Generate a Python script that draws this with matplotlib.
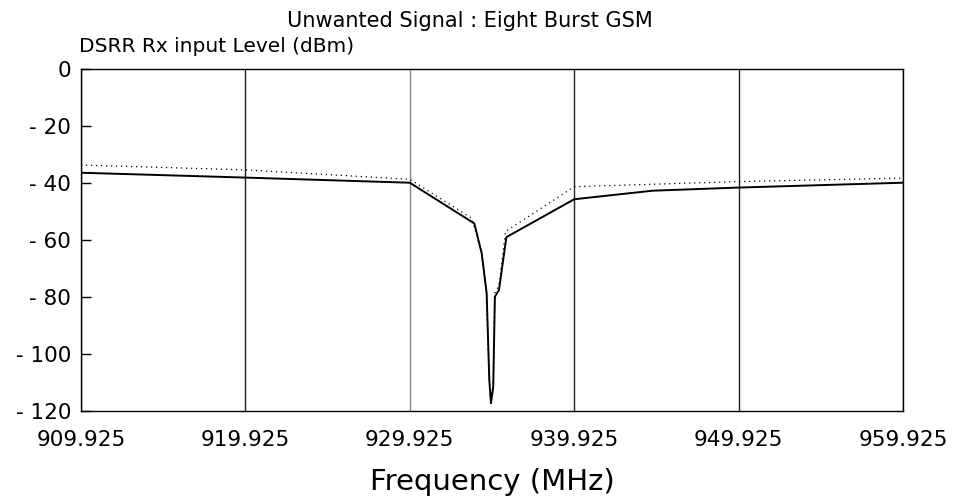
import numpy as np
import matplotlib
matplotlib.use("Agg")
import matplotlib.pyplot as plt

plt.rcParams['font.family'] = ['DejaVu Sans']

# solid trace
freq_solid = [909.925, 919.925, 929.925, 933.85, 934.30, 934.60, 934.76, 934.86,
              935.00, 935.10, 935.35, 935.80, 939.925, 944.70, 949.925, 959.925]
level_solid = [-36.4, -38.1, -39.9, -54.2, -64.7, -78.7, -109.0, -117.3,
               -111.5, -79.9, -77.5, -59.0, -45.7, -42.7, -41.6, -39.9]

# dotted trace
freq_dot = [909.925, 919.925, 929.925, 933.70, 934.25, 934.58, 934.75, 934.86,
            935.00, 935.10, 935.35, 935.75, 939.925, 949.925, 959.925]
level_dot = [-33.7, -35.4, -38.7, -52.4, -63.5, -78.0, -108.0, -116.5,
             -110.5, -78.5, -76.0, -57.0, -41.3, -39.5, -38.3]

xticks = [909.925, 919.925, 929.925, 939.925, 949.925, 959.925]
xtick_labels = ['909.925', '919.925', '929.925', '939.925', '949.925', '959.925']
yticks = [0, -20, -40, -60, -80, -100, -120]
ytick_labels = ['0', '- 20', '- 40', '- 60', '- 80', '- 100', '- 120']

fig = plt.figure(figsize=(9.56, 5.03), dpi=100)
ax = fig.add_subplot(111)
fig.subplots_adjust(left=81/956, right=903/956, top=1-69/503, bottom=1-411/503)

ax.plot(freq_dot, level_dot, color='k', lw=0.9, linestyle=(0, (1, 3)))
ax.plot(freq_solid, level_solid, color='k', lw=1.4)

ax.set_xlim(909.925, 959.925)
ax.set_ylim(-120, 0)
ax.set_xticks(xticks)
ax.set_xticklabels(xtick_labels)
ax.set_yticks(yticks)
ax.set_yticklabels(ytick_labels)
ax.tick_params(axis='x', length=0, pad=14, labelsize=15.5)
ax.tick_params(axis='y', direction='in', length=7, width=1, pad=7, labelsize=15.5)

ax.xaxis.grid(True, color='#222222', lw=1.0)
ax.get_xgridlines()[2].set_color('#888888')
for s in ax.spines.values():
    s.set_linewidth(1.0)

fig.text(0.492, 0.958, 'Unwanted Signal : Eight Burst GSM', ha='center', va='center', fontsize=15)
fig.text(79/956, 1-46/503, 'DSRR Rx input Level (dBm)', ha='left', va='center', fontsize=14.5)
ax.set_xlabel('Frequency (MHz)', fontsize=21, labelpad=13)

plt.savefig('out.png', dpi=100)
